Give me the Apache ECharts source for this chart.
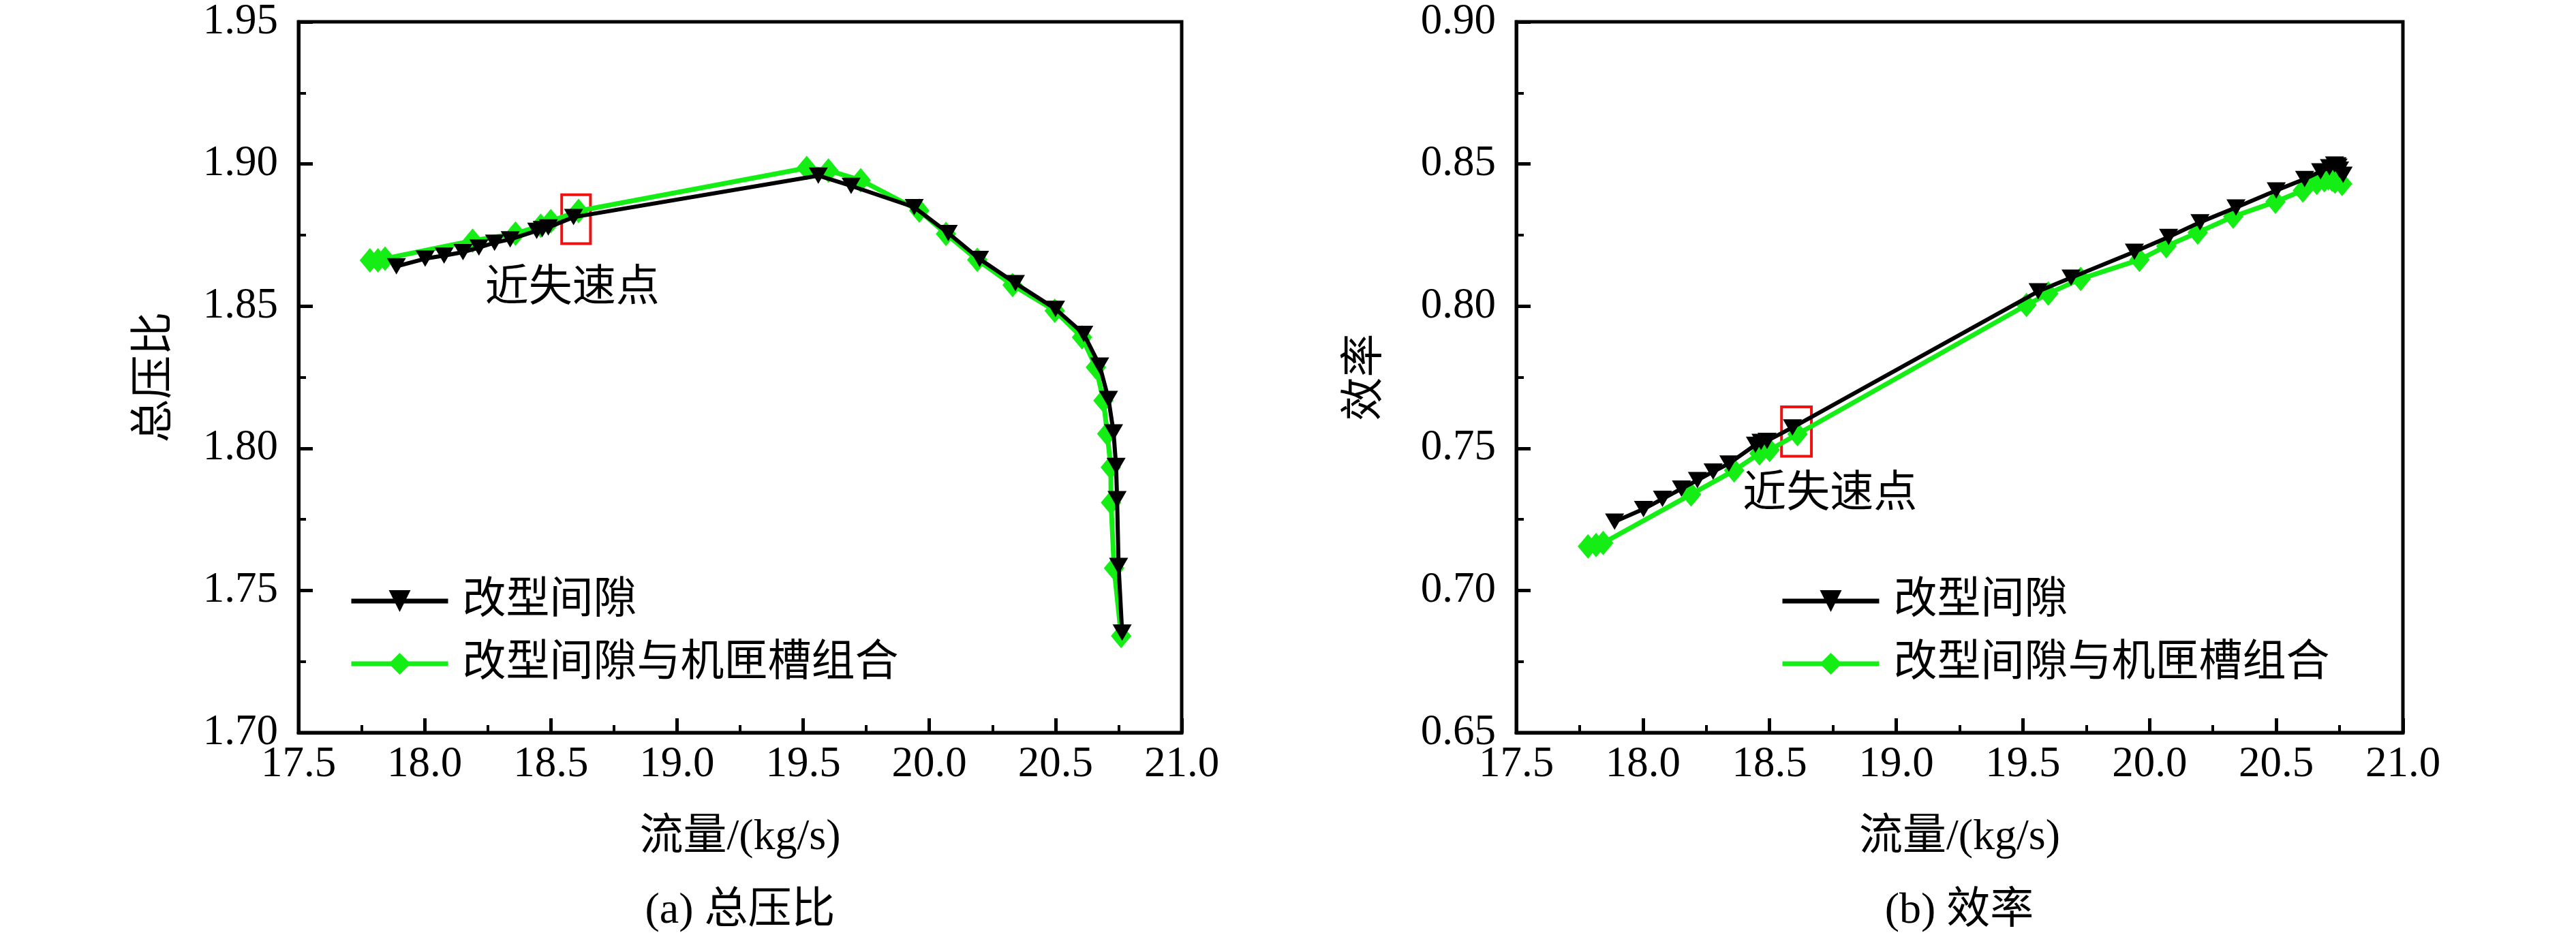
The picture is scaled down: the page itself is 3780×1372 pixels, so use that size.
<!DOCTYPE html>
<html>
<head>
<meta charset="utf-8">
<title>改型间隙与机匣槽组合</title>
<script src="https://cdn.jsdelivr.net/npm/echarts@6/dist/echarts.min.js"></script>
<style>
  html, body { margin: 0; padding: 0; background: #fff; }
  #chart { width: 3780px; height: 1372px; }
</style>
</head>
<body>
<div id="chart"></div>
<script>
// 改型间隙 (black, down triangles)
var flowA = [17.888, 18.002, 18.077, 18.152, 18.215, 18.277, 18.339, 18.444, 18.466, 18.49, 18.59,
             19.56, 19.69, 19.94, 20.075, 20.199, 20.341, 20.5, 20.612, 20.675, 20.71, 20.73, 20.74, 20.744, 20.75, 20.764];
var prA = [1.8640, 1.8667, 1.8678, 1.8690, 1.8706, 1.8723, 1.8735, 1.8765, 1.8771, 1.8777, 1.8813,
           1.8959, 1.8923, 1.8848, 1.8757, 1.8666, 1.8581, 1.8490, 1.8402, 1.8291, 1.8173, 1.8056, 1.7938, 1.7821, 1.7586, 1.7352];
var effA = [0.7242, 0.7286, 0.7322, 0.7358, 0.7388, 0.7418, 0.7446, 0.7512, 0.7522, 0.7526, 0.7573,
            0.8052, 0.8100, 0.8191, 0.8243, 0.8295, 0.8347, 0.8407, 0.8447, 0.8474, 0.8488, 0.8498, 0.8495, 0.8490, 0.8480, 0.8462];

// 改型间隙与机匣槽组合 (green, diamonds)
var flowB = [17.783, 17.815, 17.843, 18.19, 18.36, 18.46, 18.50, 18.61,
             19.514, 19.60, 19.728, 19.96, 20.066, 20.19, 20.33, 20.497, 20.605, 20.66, 20.69, 20.705, 20.719, 20.72, 20.732, 20.76];
var prB = [1.8661, 1.8661, 1.8667, 1.8730, 1.8755, 1.8783, 1.8799, 1.8835,
           1.8986, 1.8977, 1.8943, 1.8836, 1.8754, 1.8663, 1.8574, 1.8484, 1.8390, 1.8285, 1.8168, 1.8051, 1.7933, 1.7809, 1.7578, 1.7340];
var effB = [0.7155, 0.7160, 0.7167, 0.7338, 0.7422, 0.7482, 0.7494, 0.7550,
            0.8004, 0.8044, 0.8096, 0.8163, 0.8211, 0.8259, 0.8315, 0.8367, 0.8407, 0.8434, 0.8443, 0.8450, 0.8448, 0.8445, 0.8438, 0.8430];

var nameA = '改型间隙';
var nameB = '改型间隙与机匣槽组合';
var noteText = '近失速点';
// near-stall boxes [x0, y0, x1, y1] and label positions in data units
var boxPr = [18.543, 1.8892, 18.657, 1.8720];
var notePr = [18.585, 1.8560];
var boxEff = [18.547, 0.7646, 18.665, 0.7472];
var noteEff = [18.738, 0.7335];

var FONT = '"Liberation Serif", "Noto Sans CJK SC", serif';
var GREEN = '#14ee14';

function zip(xs, ys) {
  var out = [];
  for (var i = 0; i < xs.length; i++) out.push([xs[i], ys[i]]);
  return out;
}

function xAxisOf(idx) {
  return {
    gridIndex: idx, type: 'value', min: 17.5, max: 21.0, interval: 0.5,
    name: '流量/(kg/s)', nameLocation: 'middle', nameGap: 122,
    nameTextStyle: { fontFamily: FONT, fontSize: 64, color: '#000' },
    axisLine: { show: true, lineStyle: { color: '#000', width: 5 } },
    axisTick: { show: true, inside: true, length: 21, lineStyle: { color: '#000', width: 5 } },
    minorTick: { show: true, splitNumber: 2, length: 11, lineStyle: { color: '#000', width: 4 } },
    splitLine: { show: false },
    axisLabel: { fontFamily: FONT, fontSize: 63, color: '#000', margin: 16,
                 formatter: function (v) { return v.toFixed(1); } }
  };
}

function yAxisOf(idx, mn, mx, title, gap) {
  return {
    gridIndex: idx, type: 'value', min: mn, max: mx, interval: 0.05,
    name: title, nameLocation: 'middle', nameGap: gap,
    nameTextStyle: { fontFamily: FONT, fontSize: 64, color: '#000' },
    axisLine: { show: true, lineStyle: { color: '#000', width: 5 } },
    axisTick: { show: true, inside: true, length: 21, lineStyle: { color: '#000', width: 5 } },
    minorTick: { show: true, splitNumber: 2, length: 11, lineStyle: { color: '#000', width: 4 } },
    splitLine: { show: false },
    axisLabel: { fontFamily: FONT, fontSize: 63, color: '#000', margin: 30,
                 formatter: function (v) { return v.toFixed(2); } }
  };
}

function boxArea(b) {
  return {
    silent: true,
    itemStyle: { color: 'rgba(0,0,0,0)', borderColor: '#ee1111', borderWidth: 4 },
    data: [[{ xAxis: b[0], yAxis: b[1] }, { xAxis: b[2], yAxis: b[3] }]]
  };
}

function noteMark(p) {
  return {
    silent: true, symbol: 'circle', symbolSize: 1,
    itemStyle: { color: 'rgba(0,0,0,0)' },
    label: { show: true, position: 'inside', formatter: noteText,
             fontFamily: FONT, fontSize: 64, color: '#000' },
    data: [{ coord: p }]
  };
}

function greenSeries(idx, data) {
  return {
    name: nameB, type: 'line', xAxisIndex: idx, yAxisIndex: idx,
    data: data, symbol: 'diamond', symbolSize: [30, 36], showAllSymbol: true,
    lineStyle: { color: GREEN, width: 7 }, itemStyle: { color: GREEN },
    z: 2, animation: false
  };
}

function blackSeries(idx, data, box, note) {
  return {
    name: nameA, type: 'line', xAxisIndex: idx, yAxisIndex: idx,
    data: data, symbol: 'triangle', symbolRotate: 180, symbolSize: [28, 24], showAllSymbol: true,
    lineStyle: { color: '#000', width: 6 }, itemStyle: { color: '#000' },
    markArea: boxArea(box), markPoint: noteMark(note),
    z: 3, animation: false
  };
}

function legendOf(idx, left) {
  return {
    show: true, orient: 'vertical', left: left, top: 845, padding: 0,
    data: [nameA, nameB], itemWidth: 142, itemHeight: 40, itemGap: 18,
    lineStyle: { width: 7 },
    textStyle: { fontFamily: FONT, fontSize: 64, color: '#000', lineHeight: 74, padding: [0, 0, 0, 16] },
    selectedMode: false
  };
}

var myChart = echarts.init(document.getElementById('chart'), null, { renderer: 'canvas' });
myChart.setOption({
  backgroundColor: '#fff',
  animation: false,
  grid: [
    { left: 438, top: 32, width: 1296, height: 1043, show: true, borderColor: '#000', borderWidth: 5, backgroundColor: 'transparent' },
    { left: 2225, top: 32, width: 1301, height: 1043, show: true, borderColor: '#000', borderWidth: 5, backgroundColor: 'transparent' }
  ],
  xAxis: [xAxisOf(0), xAxisOf(1)],
  yAxis: [yAxisOf(0, 1.70, 1.95, '总压比', 178), yAxisOf(1, 0.65, 0.90, '效率', 189)],
  legend: [legendOf(0, 512), legendOf(1, 2612)],
  series: [
    greenSeries(0, zip(flowB, prB)),
    blackSeries(0, zip(flowA, prA), boxPr, notePr),
    greenSeries(1, zip(flowB, effB)),
    blackSeries(1, zip(flowA, effA), boxEff, noteEff)
  ],
  graphic: [
    { type: 'text', x: 1086, y: 1337, style: { text: '(a) 总压比', font: '64px ' + FONT, fill: '#000', align: 'center', verticalAlign: 'middle' } },
    { type: 'text', x: 2875, y: 1337, style: { text: '(b) 效率', font: '64px ' + FONT, fill: '#000', align: 'center', verticalAlign: 'middle' } }
  ]
});
window.addEventListener('resize', function () { myChart.resize(); });
</script>
</body>
</html>
